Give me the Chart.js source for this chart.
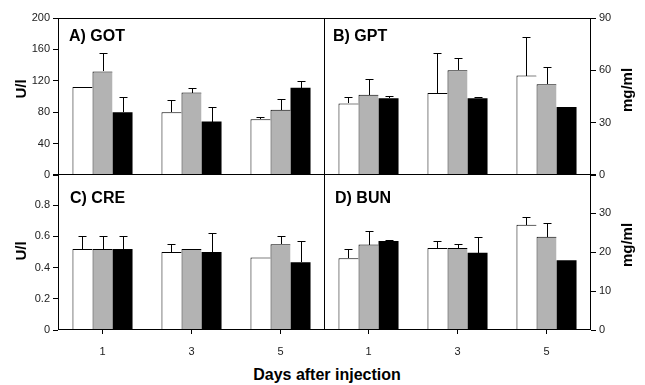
<!DOCTYPE html>
<html>
<head>
<meta charset="utf-8">
<script src="https://cdn.jsdelivr.net/npm/chart.js@4.4.1/dist/chart.umd.min.js"></script>
<style>
  body { margin: 0; background: #fff; }
  #wrap { position: relative; width: 645px; height: 385px; overflow: hidden; }
  #wrap canvas { position: absolute; }
  #xtitle { position: absolute; left: 0; width: 654px; top: 366px; text-align: center;
            font: bold 16px "Liberation Sans", Arial, sans-serif; color: #000; }
</style>
</head>
<body>
<div id="wrap">
  <canvas id="cre" width="325" height="191" style="left:0;top:174px"></canvas>
  <canvas id="bun" width="321" height="191" style="left:324px;top:174px"></canvas>
  <canvas id="got" width="325" height="182" style="left:0;top:0"></canvas>
  <canvas id="gpt" width="321" height="182" style="left:324px;top:0"></canvas>
  <div id="xtitle">Days after injection</div>
</div>
<script>
var days = ["1", "3", "5"];

// A) GOT (U/l)
var gotWhite = [112, 80, 71];
var gotWhiteErr = [0, 15, 3];
var gotGray = [132, 105, 83];
var gotGrayErr = [23, 6, 14];
var gotBlack = [80, 68, 111];
var gotBlackErr = [19, 18, 9];

// B) GPT (mg/ml)
var gptWhite = [41, 47, 57];
var gptWhiteErr = [4, 23, 22];
var gptGray = [46, 60, 52];
var gptGrayErr = [9, 7, 10];
var gptBlack = [44, 44, 39];
var gptBlackErr = [1.5, 0.5, 0];

// C) CRE (U/l)
var creWhite = [0.52, 0.50, 0.465];
var creWhiteErr = [0.08, 0.05, 0];
var creGray = [0.52, 0.52, 0.55];
var creGrayErr = [0.08, 0, 0.05];
var creBlack = [0.52, 0.50, 0.435];
var creBlackErr = [0.08, 0.12, 0.135];

// D) BUN (mg/ml)
var bunWhite = [18.4, 21, 27];
var bunWhiteErr = [2.4, 1.8, 1.9];
var bunGray = [21.9, 21, 23.9];
var bunGrayErr = [3.4, 1, 3.6];
var bunBlack = [22.8, 19.8, 17.9];
var bunBlackErr = [0.3, 4.1, 0];

var tickFont = { family: "'Liberation Sans Narrow', 'Liberation Sans', Arial, sans-serif", size: 11 };

var errorBars = {
    id: "errorBars",
    afterDatasetsDraw: function(chart) {
        var ctx = chart.ctx;
        var yScale = chart.scales.y;
        ctx.save();
        ctx.strokeStyle = "#000";
        ctx.lineWidth = 1;
        chart.data.datasets.forEach(function(ds, i) {
            chart.getDatasetMeta(i).data.forEach(function(bar, j) {
                var e = ds.err[j];
                if (!e) return;
                var x = Math.round(bar.x) + 0.5;
                var y0 = Math.round(bar.y);
                var y1 = Math.round(yScale.getPixelForValue(ds.data[j] + e)) + 0.5;
                ctx.beginPath();
                ctx.moveTo(x, y0);
                ctx.lineTo(x, y1);
                ctx.moveTo(x - 4, y1);
                ctx.lineTo(x + 4, y1);
                ctx.stroke();
            });
        });
        ctx.restore();
    }
};

var frame = {
    id: "frame",
    afterDatasetsDraw: function(chart) {
        var a = chart.chartArea;
        var ctx = chart.ctx;
        ctx.save();
        ctx.strokeStyle = "#000";
        ctx.lineWidth = 1;
        var l = Math.round(a.left) + 0.5, r = Math.round(a.right) - 0.5;
        var t = Math.round(a.top) + 0.5, b = Math.round(a.bottom) - 0.5;
        ctx.strokeRect(l, t, r - l, b - t);
        ctx.restore();
    }
};

var panelText = {
    id: "panelText",
    afterDraw: function(chart, args, opts) {
        var ctx = chart.ctx;
        var a = chart.chartArea;
        ctx.save();
        ctx.fillStyle = "#000";
        ctx.font = "bold 16px 'Liberation Sans', Arial, sans-serif";
        ctx.textBaseline = "alphabetic";
        ctx.fillText(opts.label, a.left + opts.dx, a.top + opts.dy);
        // rotated axis title
        ctx.translate(opts.tx, opts.ty);
        ctx.rotate(-Math.PI / 2);
        ctx.textAlign = "center";
        ctx.textBaseline = "middle";
        ctx.font = "bold 15px 'Liberation Sans', Arial, sans-serif";
        ctx.fillText(opts.title, 0, 0);
        ctx.restore();
    }
};

function makePanel(id, p) {
    var edge = { top: 1, left: 1, right: 0, bottom: 0 };
    return new Chart(document.getElementById(id), {
        type: "bar",
        data: {
            labels: days,
            datasets: [
                { data: p.white, err: p.whiteErr, backgroundColor: "#ffffff", borderColor: "#000", borderWidth: edge, borderSkipped: false },
                { data: p.gray, err: p.grayErr, backgroundColor: "#b3b3b3", borderColor: "#000", borderWidth: edge, borderSkipped: false },
                { data: p.black, err: p.blackErr, backgroundColor: "#000000", borderWidth: 0 }
            ]
        },
        options: {
            responsive: false,
            animation: false,
            layout: { padding: { top: p.padTop, left: 0, right: 0, bottom: p.padBottom } },
            datasets: { bar: { categoryPercentage: 0.675, barPercentage: 1 } },
            plugins: {
                legend: { display: false },
                tooltip: { enabled: false },
                panelText: { label: p.label, dx: p.dx, dy: p.dy, title: p.title, tx: p.tx, ty: p.ty }
            },
            scales: {
                x: {
                    display: p.showX,
                    grid: { offset: false, drawOnChartArea: false, tickLength: 4, color: "#000" },
                    border: { display: false },
                    ticks: { font: tickFont, color: "#222", padding: 11 },
                    afterFit: function(s) {
                        if (p.showX) s.height = 35;
                        s.paddingLeft = 0;
                        s.paddingRight = 0;
                    }
                },
                y: {
                    position: p.side,
                    min: 0,
                    max: p.max,
                    grid: { drawOnChartArea: false, tickLength: 5, color: "#000" },
                    border: { display: false },
                    ticks: {
                        stepSize: p.step,
                        font: tickFont,
                        color: "#222",
                        padding: 3,
                        callback: function(v) {
                            if (v > p.labelMax + 1e-9) return "";
                            return String(Math.round(v * 100) / 100);
                        }
                    },
                    afterFit: function(s) {
                        s.width = p.axisW;
                        s.paddingTop = 0;
                        s.paddingBottom = 0;
                    }
                }
            }
        },
        plugins: [errorBars, frame, panelText]
    });
}

makePanel("got", {
    white: gotWhite, whiteErr: gotWhiteErr, gray: gotGray, grayErr: gotGrayErr, black: gotBlack, blackErr: gotBlackErr,
    label: "A) GOT", dx: 11, dy: 23, title: "U/l", tx: 22, ty: 89,
    side: "left", axisW: 58, max: 200, step: 40, labelMax: 200, padTop: 18, padBottom: 7, showX: false
});
makePanel("gpt", {
    white: gptWhite, whiteErr: gptWhiteErr, gray: gptGray, grayErr: gptGrayErr, black: gptBlack, blackErr: gptBlackErr,
    label: "B) GPT", dx: 9, dy: 23, title: "mg/ml", tx: 304, ty: 90,
    side: "right", axisW: 54, max: 90, step: 30, labelMax: 90, padTop: 18, padBottom: 7, showX: false
});
makePanel("cre", {
    white: creWhite, whiteErr: creWhiteErr, gray: creGray, grayErr: creGrayErr, black: creBlack, blackErr: creBlackErr,
    label: "C) CRE", dx: 12, dy: 29, title: "U/l", tx: 22, ty: 77,
    side: "left", axisW: 58, max: 1, step: 0.2, labelMax: 0.8, padTop: 0, padBottom: 0, showX: true
});
makePanel("bun", {
    white: bunWhite, whiteErr: bunWhiteErr, gray: bunGray, grayErr: bunGrayErr, black: bunBlack, blackErr: bunBlackErr,
    label: "D) BUN", dx: 11, dy: 29, title: "mg/ml", tx: 304, ty: 71,
    side: "right", axisW: 54, max: 40, step: 10, labelMax: 30, padTop: 0, padBottom: 0, showX: true
});
</script>
</body>
</html>
